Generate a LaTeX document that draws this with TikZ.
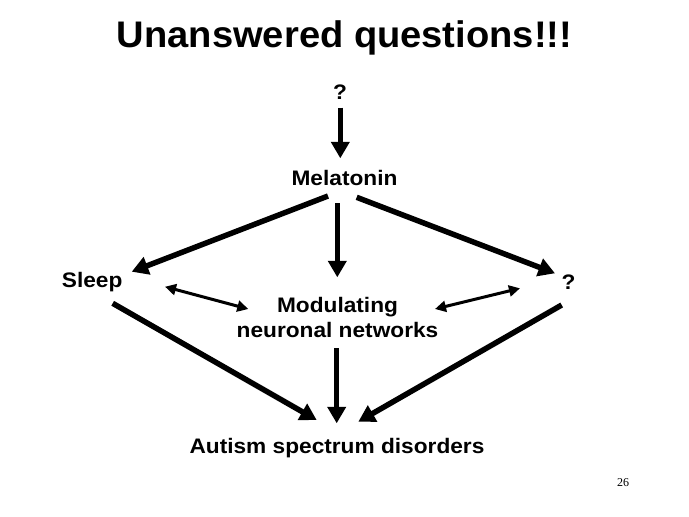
\documentclass[tikz,border=0pt]{standalone}
\usepackage{fontspec}
\setmainfont{Liberation Sans}
\newfontfamily\numfont{Liberation Serif}
\usetikzlibrary{arrows.meta}
\begin{document}
\begin{tikzpicture}[x=1pt,y=-1pt,
  lbl/.style={anchor=base,inner sep=0pt,xscale=1.08,font=\fontsize{21}{25}\selectfont\bfseries},
  ttl/.style={anchor=base,inner sep=0pt,xscale=1.03,font=\fontsize{37}{44}\selectfont\bfseries},
  bigarrow/.style={line width=5.5pt,-{Triangle[length=16.5pt,width=18pt]}},
  duo/.style={line width=3pt,{Triangle[length=11pt,width=11pt]}-{Triangle[length=11pt,width=11pt]}}
]
\fill[white] (0,0) rectangle (689,517);
\useasboundingbox (0,0) rectangle (689,517);

\node[ttl] (title) at (344.5,47) {Unanswered questions!!!};
\node[lbl] (q1) at (340,99) {?};
\node[lbl] (mel) at (344.5,185) {Melatonin};
\node[lbl] (sleep) at (92.2,287) {Sleep};
\node[lbl] (q2) at (568.5,289) {?};
\node[lbl,align=center] (mod) at (337.5,337.7) {Modulating\\neuronal networks};
\node[lbl] (asd) at (337,453) {Autism spectrum disorders};
\node[anchor=base,inner sep=0pt,font=\numfont\fontsize{12}{14}\selectfont] (pg) at (623,486) {26};

\draw[bigarrow] ([shift={(0.3,8.7)}]q1.base) -- ([shift={(-4.2,-26.7)}]mel.base);
\draw[bigarrow] ([shift={(-16.5,11)}]mel.base) -- ([shift={(39.5,-15.3)}]sleep.base);
\draw[bigarrow] ([shift={(-7.2,18.3)}]mel.base) -- ([shift={(-0.2,-60.4)}]mod.base);
\draw[bigarrow] ([shift={(12.2,12.3)}]mel.base) -- ([shift={(-13.5,-15.7)}]q2.base);
\draw[duo] ([shift={(72.8,-0.3)}]sleep.base) -- ([shift={(-89.2,-28.7)}]mod.base);
\draw[duo] ([shift={(97.5,-28.7)}]mod.base) -- ([shift={(-48.5,-0.7)}]q2.base);
\draw[bigarrow] ([shift={(20.5,16.3)}]sleep.base) -- ([shift={(-20.3,-33)}]asd.base);
\draw[bigarrow] ([shift={(-0.8,10.6)}]mod.base) -- ([shift={(-0.3,-29.7)}]asd.base);
\draw[bigarrow] ([shift={(-6.8,16)}]q2.base) -- ([shift={(21.3,-31.3)}]asd.base);
\end{tikzpicture}
\end{document}
